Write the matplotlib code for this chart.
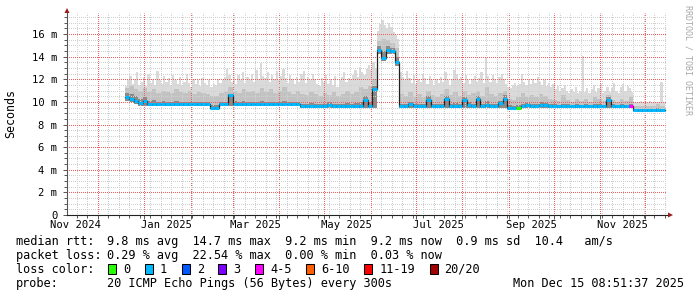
import numpy as np
import matplotlib
matplotlib.use("Agg")
import matplotlib.pyplot as plt
import matplotlib.dates as mdates
from matplotlib.patches import Rectangle, Polygon
from datetime import datetime, timedelta

plt.rcParams['font.family'] = ['DejaVu Sans Mono']

# time window of the graph (400 days ending at the stamp)
t_start = datetime(2024, 11, 10, 8, 51, 37)
t_end = datetime(2025, 12, 15, 8, 51, 37)
first_sample = datetime(2024, 12, 19)
step_days = 3          # median / dark smoke / loss resolution
fine_step = 1.5        # smoke top resolution

# median rtt in ms, one value per 3-day step
med = [10.4, 10.25, 10.05, 9.9, 10.1, 9.8, 9.85, 9.8, 9.8, 9.85,
       9.8, 9.8, 9.85, 9.8, 9.8, 9.8, 9.8, 9.8, 9.8, 9.5,
       9.5, 9.8, 9.8, 10.6, 9.8, 9.8, 9.8, 9.8, 9.8, 9.8,
       9.85, 9.8, 9.8, 9.8, 9.8, 9.8, 9.8, 9.8, 9.8, 9.6,
       9.6, 9.6, 9.6, 9.65, 9.6, 9.75, 9.6, 9.6, 9.6, 9.6,
       9.6, 9.6, 9.6, 10.2, 9.65, 11.1, 14.6, 13.9, 14.6, 14.5,
       13.5, 9.6, 9.6, 9.8, 9.6, 9.6, 9.6, 10.2, 9.6, 9.6,
       9.6, 10.25, 9.6, 9.65, 9.6, 10.15, 9.75, 9.6, 10.25, 9.6,
       9.75, 9.6, 9.6, 9.9, 10.3, 9.5, 9.45, 9.5, 9.6, 9.7,
       9.6, 9.6, 9.75, 9.7, 9.6, 9.6, 9.6, 9.6, 9.6, 9.6,
       9.6, 9.6, 9.6, 9.6, 9.6, 9.6, 9.6, 10.2, 9.6, 9.6,
       9.6, 9.6, 9.6, 9.28, 9.28, 9.28, 9.28, 9.28, 9.28, 9.28]

# highest ping (top of the smoke), one value per 1.5-day step
top = [11.4, 11.9, 12.3, 11.6, 12.0, 12.6, 11.5, 11.8, 12.2, 11.4,
       12.5, 11.7, 12.0, 11.5, 12.7, 11.9, 11.6, 12.3, 11.8, 12.1,
       11.5, 12.4, 11.9, 11.6, 12.2, 11.4, 11.8, 12.5, 11.7, 11.3,
       12.0, 11.6, 11.9, 11.4, 12.1, 11.7, 11.5, 11.9, 11.3, 11.6,
       11.5, 12.0, 11.7, 11.9, 12.2, 12.9, 12.4, 11.8, 12.1, 11.6,
       12.4, 11.9, 12.6, 11.7, 12.2, 11.9, 12.5, 11.8, 12.8, 12.0,
       13.4, 12.3, 12.1, 12.6, 11.8, 12.4, 12.0, 12.7, 11.9, 12.3,
       12.9, 12.1, 11.7, 12.4, 12.0, 11.6, 12.2, 11.8, 12.5, 12.7,
       11.7, 12.2, 11.9, 12.5, 12.0, 11.6, 11.4, 12.1, 11.8, 12.4,
       11.6, 12.0, 11.5, 12.3, 11.3, 11.9, 12.2, 12.6, 11.8, 12.1,
       11.9, 12.4, 12.8, 12.2, 13.1, 12.6, 12.4, 12.9, 13.3, 12.8,
       13.5, 13.0, 16.3, 16.9, 17.2, 16.8, 16.5, 17.0, 16.6, 16.2,
       15.9, 15.6, 12.6, 12.2, 11.9, 12.7, 12.1, 11.7, 12.4, 11.6,
       12.0, 11.8, 12.5, 12.1, 11.6, 12.3, 11.9, 11.5, 12.0, 11.7,
       12.2, 11.8, 12.6, 11.9, 11.5, 12.0, 12.8, 12.5, 11.9, 12.2,
       11.7, 12.4, 11.9, 11.6, 12.0, 12.3, 11.8, 12.1, 12.6, 11.7,
       13.9, 12.3, 11.8, 12.4, 12.0, 11.7, 12.2, 12.5, 12.0, 11.6,
       11.3, 11.2, 11.5, 11.7, 11.4, 11.6, 12.5, 11.8, 11.5, 11.9,
       11.6, 12.0, 11.7, 12.2, 11.8, 11.5, 11.9, 11.4, 11.7, 11.3,
       11.6, 11.1, 11.4, 10.9, 11.2, 11.5, 11.0, 10.8, 11.1, 10.9,
       11.3, 10.8, 11.0, 14.1, 10.9, 11.2, 10.8, 11.1, 11.5, 10.9,
       11.2, 11.6, 10.8, 11.0, 11.3, 10.9, 11.2, 11.7, 11.0, 10.8,
       11.3, 11.6, 11.0, 11.4, 11.2, 10.9, 10.0, 10.0, 10.0, 10.1,
       10.0, 10.0, 10.0, 10.1, 10.0, 10.0, 10.0, 10.0, 11.8, 10.0]

# upper edge of the medium grey smoke
mid = [11.2, 11.4, 11.1, 11.0, 11.2, 10.9, 11.1, 10.8, 11.0, 10.9,
       10.8, 11.1, 10.9, 10.8, 11.0, 10.7, 10.9, 10.8, 10.7, 10.5,
       10.5, 10.8, 10.9, 11.3, 11.0, 10.8, 11.1, 10.9, 11.0, 10.8,
       11.2, 10.9, 11.1, 10.8, 11.0, 11.3, 10.9, 10.7, 11.0, 10.7,
       10.6, 10.9, 10.7, 10.5, 10.8, 10.6, 10.9, 10.5, 10.7, 11.0,
       10.7, 10.9, 11.3, 11.1, 11.4, 12.0, 15.4, 15.6, 15.5, 15.2,
       14.8, 10.7, 10.5, 10.9, 10.4, 10.7, 10.4, 11.0, 10.6, 10.4,
       10.7, 11.1, 10.6, 10.9, 10.5, 11.0, 10.6, 10.8, 11.0, 10.5,
       11.3, 10.7, 10.5, 10.8, 11.0, 10.3, 10.2, 10.4, 10.8, 10.4,
       10.6, 10.4, 10.7, 10.5, 10.3, 10.2, 10.1, 10.6, 10.2, 10.0,
       10.3, 10.1, 10.3, 10.0, 10.4, 10.3, 10.1, 10.6, 10.2, 10.0,
       10.3, 10.1, 10.4, 9.6, 9.6, 9.6, 9.65, 9.6, 9.8, 9.6]

# upper edge of the dark smoke near the median
dark = [10.8, 10.7, 10.5, 10.3, 10.4, 10.1, 10.2, 10.0, 10.1, 10.0,
        10.0, 10.1, 10.0, 9.95, 10.0, 9.95, 10.0, 9.95, 9.95, 9.7,
        9.7, 10.0, 10.0, 10.7, 10.1, 9.95, 10.1, 10.0, 10.0, 9.95,
        10.1, 10.0, 10.0, 9.95, 10.0, 10.1, 10.0, 9.95, 10.0, 9.8,
        9.8, 9.9, 9.8, 9.85, 9.8, 9.95, 9.85, 9.8, 9.8, 9.9,
        9.8, 9.9, 10.0, 10.5, 10.0, 11.4, 14.9, 14.5, 14.9, 14.8,
        14.0, 9.8, 9.8, 10.0, 9.8, 9.8, 9.8, 10.5, 9.8, 9.8,
        9.85, 10.5, 9.85, 9.9, 9.8, 10.4, 10.0, 9.85, 10.5, 9.8,
        10.1, 9.85, 9.8, 10.1, 10.6, 9.7, 9.65, 9.7, 9.85, 9.9,
        9.8, 9.8, 9.95, 9.9, 9.8, 9.8, 9.75, 9.85, 9.8, 9.75,
        9.8, 9.75, 9.8, 9.75, 9.85, 9.8, 9.75, 10.4, 9.8, 9.75,
        9.8, 9.75, 9.85, 9.4, 9.4, 9.4, 9.4, 9.4, 9.45, 9.4]

# lowest ping (bottom of the smoke)
low = ([10.1, 10.0, 9.85, 9.65] + [9.6] * 15 + [9.35, 9.35] + [9.6] * 18
       + [9.45] * 16 + [9.5, 14.2, 13.6, 14.2, 14.2, 13.2] + [9.45] * 52
       + [9.15] * 7)
low_fine = np.repeat(low, 2)

# lost pings class per step (index into loss_colors)
loss = [1] * 87 + [0] + [1] * 24 + [4] + [1] * 7

loss_labels = ["0", "1", "2", "3", "4-5", "6-10", "11-19", "20/20"]
loss_colors = ["#26ff00", "#00b8ff", "#0059ff", "#7e00ff",
               "#ff00ff", "#ff5e00", "#ff0000", "#a10000"]

month_labels = ["Nov 2024", "Jan 2025", "Mar 2025", "May 2025",
                "Jul 2025", "Sep 2025", "Nov 2025"]
label_dates = [datetime(2024, 11, 16), datetime(2025, 1, 16), datetime(2025, 3, 16),
               datetime(2025, 5, 16), datetime(2025, 7, 16), datetime(2025, 9, 16),
               datetime(2025, 11, 16)]

rtt_line = "9.8 ms avg  14.7 ms max  9.2 ms min  9.2 ms now  0.9 ms sd  10.4   am/s"
loss_line = "0.29 % avg  22.54 % max  0.00 % min  0.03 % now"
probe_line = "20 ICMP Echo Pings (56 Bytes) every 300s"
stamp = "Mon Dec 15 08:51:37 2025"

W, H = 697, 297
fig = plt.figure(figsize=(W / 100, H / 100), dpi=100)
fig.patch.set_facecolor("white")
ax = fig.add_axes([67 / W, 1 - 215 / H, 600 / W, 202 / H])

n = len(med)
t0 = mdates.date2num(first_sample)
t = t0 + step_days * np.arange(n)
t_ext = np.append(t, t[-1] + step_days)
tf = t0 + fine_step * np.arange(len(top))
tf_ext = np.append(tf, tf[-1] + fine_step)


def ext(a):
    return np.append(np.asarray(a, float), a[-1])


ax.fill_between(tf_ext, ext(low_fine), ext(top), step="post", color="#dadada", lw=0)
ax.fill_between(t_ext, ext(low), ext(mid), step="post", color="#c2c2c2", lw=0)
ax.fill_between(t_ext, ext(low), ext(dark), step="post", color="#8a8a8a", lw=0)
ax.plot(t_ext, ext(med), drawstyle="steps-post", color="#202020", lw=0.9, zorder=3)
ax.hlines(med, t, t + step_days, colors=[loss_colors[c] for c in loss],
          lw=2.2, zorder=4)

ax.set_xlim(mdates.date2num(t_start), mdates.date2num(t_end))
ax.set_ylim(0, 17.86)

# ticks
ax.xaxis.set_major_locator(mdates.MonthLocator())
ax.xaxis.set_minor_locator(mdates.WeekdayLocator(byweekday=mdates.SU))
ax.xaxis.set_major_formatter(plt.NullFormatter())
ax.set_yticks(np.arange(0, 17, 2))
ax.set_yticks(np.arange(0, 18, 0.5), minor=True)
ax.set_yticklabels(["0"] + ["%d m" % v for v in range(2, 17, 2)])

for s in ["top", "right"]:
    ax.spines[s].set_visible(False)
ax.spines["left"].set_color("#555555")
ax.spines["bottom"].set_color("#222222")
ax.spines["left"].set_linewidth(0.8)
ax.spines["bottom"].set_linewidth(0.8)
ax.tick_params(which="major", length=3, width=0.7, color="#555555",
               labelsize=7.6, pad=4)
ax.tick_params(which="minor", length=2, width=0.7, color="#555555")
ax.tick_params(axis="x", which="both", labelbottom=False)

# dotted grid, drawn over the smoke but under the median line
ax.set_axisbelow("line")
ax.grid(which="minor", color="#d0d0d0", linestyle=(0.5, (1, 1)), lw=0.72)
ax.grid(which="major", color="#f06060", linestyle=(0.5, (1, 1)), lw=0.72)

for lab, d in zip(month_labels, label_dates):
    ax.text(mdates.date2num(d), -0.05, lab, transform=ax.get_xaxis_transform(),
            ha="center", va="center", fontsize=7.6)

# arrows at the axis ends
fig.add_artist(Polygon([[64.5 / W, 1 - 13 / H], [69.5 / W, 1 - 13 / H], [67 / W, 1 - 8 / H]],
                       closed=True, transform=fig.transFigure, color="#9b1c1c", lw=0))
fig.add_artist(Polygon([[668 / W, 1 - 212.5 / H], [668 / W, 1 - 217.5 / H], [673 / W, 1 - 215 / H]],
                       closed=True, transform=fig.transFigure, color="#9b1c1c", lw=0))

fig.text(11 / W, 1 - 113.5 / H, "Seconds", rotation=90, ha="center", va="center",
         fontsize=8.4)
fig.text(688 / W, 1 - 60 / H, "RRDTOOL / TOBI OETIKER", rotation=270, ha="center",
         va="center", fontsize=6, color="#a8a8a8")

# legend
fs = 8.6
rows = [241.3, 255.3, 269.3, 283.7]
fig.text(16 / W, 1 - rows[0] / H, "median rtt:", va="center", fontsize=fs)
fig.text(107.3 / W, 1 - rows[0] / H, rtt_line, va="center", fontsize=fs)
fig.text(16 / W, 1 - rows[1] / H, "packet loss:", va="center", fontsize=fs)
fig.text(107.3 / W, 1 - rows[1] / H, loss_line, va="center", fontsize=fs)
fig.text(16 / W, 1 - rows[2] / H, "loss color:", va="center", fontsize=fs)
bx = 108.3
for lab, col in zip(loss_labels, loss_colors):
    fig.add_artist(Rectangle((bx / W, 1 - 273.5 / H), 8 / W, 10 / H,
                             transform=fig.transFigure, facecolor=col,
                             edgecolor="black", lw=0.75))
    fig.text((bx + 15) / W, 1 - rows[2] / H, lab, va="center", fontsize=fs)
    bx += 15 + len(lab) * 7.17 + 14.5
fig.text(16 / W, 1 - rows[3] / H, "probe:", va="center", fontsize=fs)
fig.text(107.3 / W, 1 - rows[3] / H, probe_line, va="center", fontsize=fs)
fig.text(513.3 / W, 1 - rows[3] / H, stamp, va="center", fontsize=fs)

fig.savefig("out.png", dpi=100)
